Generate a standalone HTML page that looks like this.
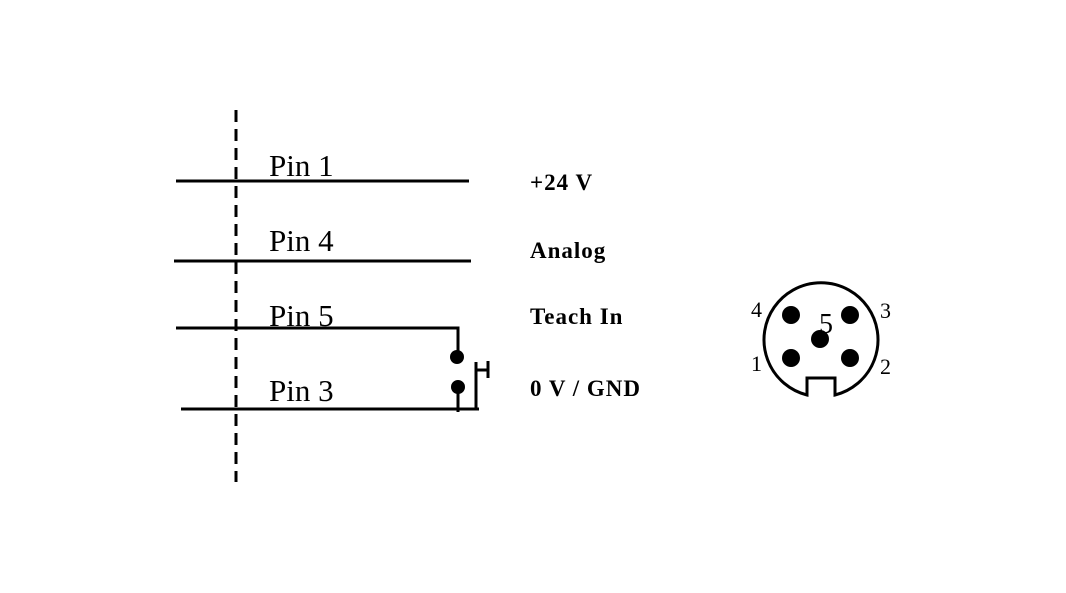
<!DOCTYPE html>
<html><head><meta charset="utf-8"><style>
html,body{margin:0;padding:0;background:#fff;}
svg{display:block}
</style></head><body>
<svg width="1066" height="593" viewBox="0 0 1066 593" xmlns="http://www.w3.org/2000/svg">
<rect width="1066" height="593" fill="#fff"/>
<line x1="236" y1="110" x2="236" y2="482" stroke="#000" stroke-width="3" stroke-dasharray="12,7"/>
<g stroke="#000" stroke-width="3" fill="none">
<line x1="176" y1="181" x2="469" y2="181"/>
<line x1="174" y1="261" x2="471" y2="261"/>
<polyline points="176,328 458,328 458,352"/>
<line x1="181" y1="409" x2="479" y2="409"/>
<line x1="458" y1="390" x2="458" y2="412"/>
<line x1="476" y1="362" x2="476" y2="410"/>
<line x1="476" y1="370" x2="488" y2="370"/>
<line x1="488" y1="361" x2="488" y2="378"/>
</g>
<circle cx="457" cy="357" r="7" fill="#000"/>
<circle cx="458" cy="387" r="7" fill="#000"/>
<g font-family="'Liberation Serif',serif" font-size="31" fill="#000">
<text x="269" y="176">Pin 1</text>
<text x="269" y="251">Pin 4</text>
<text x="269" y="326">Pin 5</text>
<text x="269" y="401">Pin 3</text>
</g>
<g font-family="'Liberation Serif',serif" font-size="23" font-weight="bold" fill="#000" letter-spacing="1">
<text x="530" y="190">+24 V</text>
<text x="530" y="258">Analog</text>
<text x="530" y="324">Teach In</text>
<text x="530" y="396">0 V / GND</text>
</g>
<path d="M807,395 A57,57 0 1 1 835,395 L835,378 L807,378 Z" fill="none" stroke="#000" stroke-width="3"/>
<circle cx="791" cy="315" r="9" fill="#000"/>
<circle cx="850" cy="315" r="9" fill="#000"/>
<circle cx="820" cy="339" r="9" fill="#000"/>
<circle cx="791" cy="358" r="9" fill="#000"/>
<circle cx="850" cy="358" r="9" fill="#000"/>
<g font-family="'Liberation Serif',serif" font-size="22" fill="#000">
<text x="751" y="317">4</text>
<text x="880" y="318">3</text>
<text x="751" y="371">1</text>
<text x="880" y="374">2</text>
<text x="819" y="333" font-size="28">5</text>
</g>
</svg>
</body></html>
